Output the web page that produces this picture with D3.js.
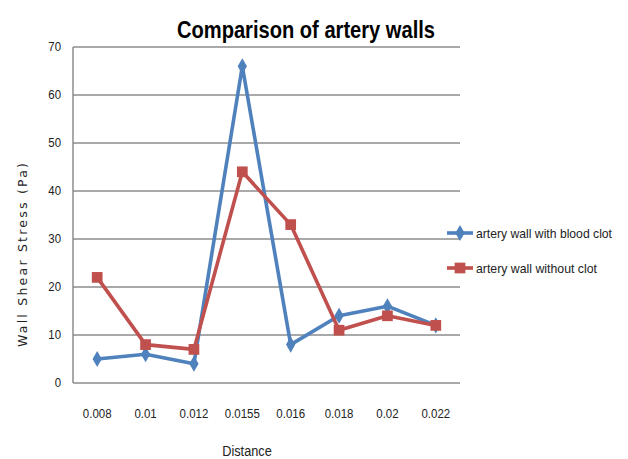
<!DOCTYPE html>
<html><head><meta charset="utf-8">
<script src="https://cdn.jsdelivr.net/npm/d3@7"></script>
<style>body{margin:0;background:#fff;} svg{display:block;}</style>
</head><body>
<svg id="c" width="628" height="459"></svg>
<script>
const categories = ["0.008","0.01","0.012","0.0155","0.016","0.018","0.02","0.022"];
const withClot = [5, 6, 4, 66, 8, 14, 16, 12];
const withoutClot = [22, 8, 7, 44, 33, 11, 14, 12];
const yTicks = [0,10,20,30,40,50,60,70];
const seriesNames = ["artery wall with blood clot","artery wall without clot"];
const colors = ["#4F81BD","#C0504D"];

const svg = d3.select("#c");
const m = {l:73, r:460, t:47, b:383};
const x = d3.scaleBand().domain(categories).range([m.l, m.r]);
const y = d3.scaleLinear().domain([0,70]).range([m.b, m.t]);
const font = "'Liberation Sans Narrow', 'Liberation Sans', sans-serif";

// gridlines
svg.append("g").selectAll("line").data(yTicks).join("line")
  .attr("x1", m.l).attr("x2", m.r).attr("y1", d=>y(d)).attr("y2", d=>y(d))
  .attr("stroke", "#8c8c8c").attr("stroke-width", 1.5);
svg.append("line").attr("x1", m.l).attr("x2", m.l).attr("y1", m.t).attr("y2", m.b)
  .attr("stroke", "#8c8c8c").attr("stroke-width", 1.5);

// y tick labels
svg.append("g").selectAll("text").data(yTicks).join("text")
  .attr("x", 61).attr("y", d=>y(d)+4.5).attr("text-anchor","end")
  .attr("font-family", font).attr("font-size", 13).attr("fill","#222")
  .attr("transform", d=>`translate(${61*0.12},0) scale(0.88,1)`).text(d=>d);

// x tick labels
svg.append("g").selectAll("text").data(categories).join("text")
  .attr("x", d=>(x(d)+x.bandwidth()/2)/0.85).attr("y", 418).attr("text-anchor","middle")
  .attr("transform","scale(0.85,1)")
  .attr("font-family", font).attr("font-size", 13.5).attr("fill","#222").text(d=>d);

// titles
svg.append("text").attr("x", 306).attr("y", 38).attr("text-anchor","middle")
  .attr("font-family", font).attr("font-weight","bold").attr("font-size", 24)
  .attr("textLength", 258).attr("lengthAdjust","spacingAndGlyphs")
  .attr("fill","#000").text("Comparison of artery walls");
svg.append("text").attr("x", 247/0.85).attr("y", 456).attr("text-anchor","middle")
  .attr("transform","scale(0.85,1)")
  .attr("font-family", font).attr("font-size", 15).attr("fill","#222").text("Distance");
svg.append("text").attr("transform","translate(27,255) rotate(-90)").attr("text-anchor","middle")
  .attr("font-family","'DejaVu Sans', sans-serif").attr("font-size", 12.5)
  .attr("textLength", 184).attr("lengthAdjust","spacing")
  .attr("fill","#222").text("Wall Shear Stress (Pa)");

const cx = d => x(d)+x.bandwidth()/2;
const line = d3.line().x(d=>cx(d.c)).y(d=>y(d.v));
const data = [withClot, withoutClot].map(arr => arr.map((v,i)=>({c:categories[i], v})));

data.forEach((ser, k) => {
  svg.append("path").datum(ser).attr("d", line).attr("fill","none")
    .attr("stroke", colors[k]).attr("stroke-width", 3.6).attr("stroke-linejoin","round");
});
// markers
const diamond = d3.symbol().type(d3.symbolDiamond).size(75);
const square = d3.symbol().type(d3.symbolSquare).size(115);
svg.append("g").selectAll("path").data(data[0]).join("path")
  .attr("d", diamond).attr("transform", d=>`translate(${cx(d.c)},${y(d.v)})`).attr("fill", colors[0]);
svg.append("g").selectAll("path").data(data[1]).join("path")
  .attr("d", square).attr("transform", d=>`translate(${cx(d.c)},${y(d.v)})`).attr("fill", colors[1]);

// legend
const legY = [233, 268];
const legW = [136, 121];
seriesNames.forEach((n,k)=>{
  svg.append("line").attr("x1",447).attr("x2",473).attr("y1",legY[k]).attr("y2",legY[k])
    .attr("stroke",colors[k]).attr("stroke-width",3.6);
  svg.append("path").attr("d", k===0 ? diamond() : square())
    .attr("transform",`translate(460,${legY[k]})`).attr("fill",colors[k]);
  svg.append("text").attr("x",476).attr("y",legY[k]+4.5)
    .attr("font-family", font).attr("font-size",13.5).attr("fill","#222")
    .attr("textLength", legW[k]).attr("lengthAdjust","spacingAndGlyphs").text(n);
});
</script>
</body></html>
